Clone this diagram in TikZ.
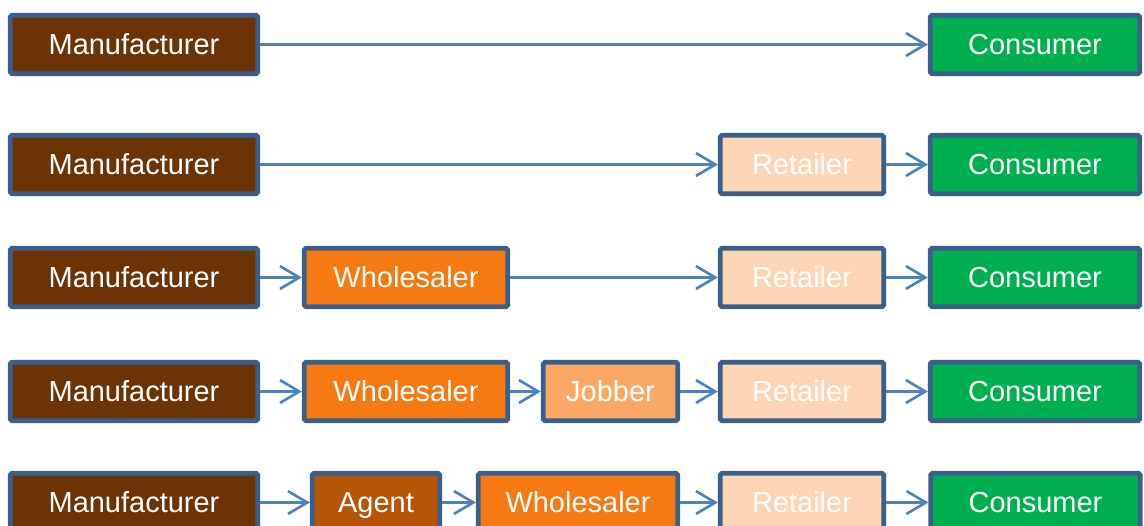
\documentclass[tikz,border=0pt]{standalone}
\usepackage{fontspec}
\setmainfont{Liberation Sans}
\usetikzlibrary{arrows.meta}
\definecolor{boxline}{RGB}{58,95,139}
\definecolor{arrowblue}{RGB}{79,129,189}
\definecolor{manubrown}{RGB}{108,52,6}
\definecolor{agentbrown}{RGB}{180,85,8}
\definecolor{wholeorange}{RGB}{245,122,20}
\definecolor{jobberorange}{RGB}{249,168,101}
\definecolor{retailpeach}{RGB}{251,213,181}
\definecolor{consgreen}{RGB}{0,176,80}

\begin{document}
\begin{tikzpicture}[x=0.02cm,y=-0.02cm,>={Straight Barb[length=11pt,width=13pt]},
	box/.style={draw=boxline,line width=2.7pt,rounded corners=1pt,text=white,inner sep=0pt,
		minimum height=1.17cm,text height=15pt,text depth=3.2pt,font=\fontsize{16.5}{20}\selectfont},
	manu/.style={box,fill=manubrown,minimum width=4.95cm},
	cons/.style={box,fill=consgreen,minimum width=4.19cm},
	retail/.style={box,fill=retailpeach,minimum width=3.27cm},
	whole/.style={box,fill=wholeorange,minimum width=4.07cm},
	jobber/.style={box,fill=jobberorange,minimum width=2.69cm},
	agent/.style={box,fill=agentbrown,minimum width=2.55cm},
	link/.style={->,draw=arrowblue,line width=1.5pt}]
	\useasboundingbox (0,0) rectangle (1144,526);
	% direct
	\node[manu] (m1) at (134,44.5) {Manufacturer};
	\node[cons] (c1) at (1035,44.5) {Consumer};
	\draw[link] (m1) -- (c1);
	% via retailer
	\node[manu] (m2) at (134,164.5) {Manufacturer};
	\node[retail] (r2) at (802,164.5) {Retailer};
	\node[cons] (c2) at (1035,164.5) {Consumer};
	\draw[link] (m2) -- (r2);
	\draw[link] (r2) -- (c2);
	% via wholesaler
	\node[manu] (m3) at (134,277.5) {Manufacturer};
	\node[whole] (w3) at (406,277.5) {Wholesaler};
	\node[retail] (r3) at (802,277.5) {Retailer};
	\node[cons] (c3) at (1035,277.5) {Consumer};
	\draw[link] (m3) -- (w3);
	\draw[link] (w3) -- (r3);
	\draw[link] (r3) -- (c3);
	% via jobber
	\node[manu] (m4) at (134,391.5) {Manufacturer};
	\node[whole] (w4) at (406,391.5) {Wholesaler};
	\node[jobber] (j4) at (610.5,391.5) {Jobber};
	\node[retail] (r4) at (802,391.5) {Retailer};
	\node[cons] (c4) at (1035,391.5) {Consumer};
	\draw[link] (m4) -- (w4);
	\draw[link] (w4) -- (j4);
	\draw[link] (j4) -- (r4);
	\draw[link] (r4) -- (c4);
	% via agent
	\node[manu] (m5) at (134,502.5) {Manufacturer};
	\node[agent] (a5) at (376,502.5) {Agent};
	\node[whole,minimum width=3.99cm] (w5) at (578,502.5) {Wholesaler};
	\node[retail] (r5) at (802,502.5) {Retailer};
	\node[cons] (c5) at (1035.5,502.5) {Consumer};
	\draw[link] (m5) -- (a5);
	\draw[link] (a5) -- (w5);
	\draw[link] (w5) -- (r5);
	\draw[link] (r5) -- (c5);
\end{tikzpicture}
\end{document}
